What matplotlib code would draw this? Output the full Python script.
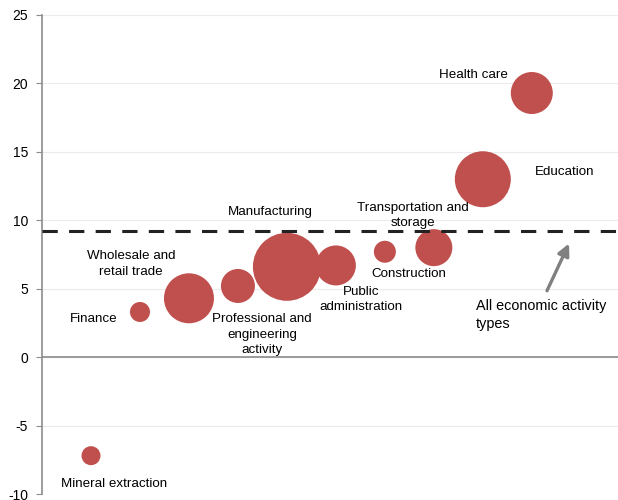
import matplotlib.pyplot as plt

plt.rcParams['font.family'] = ['Liberation Sans', 'DejaVu Sans']
plt.rcParams['axes.unicode_minus'] = False

# Bubble chart: change by economic activity, bubble area = relative weight
activities = ["Mineral extraction", "Finance", "Wholesale and retail trade",
              "Professional and engineering activity", "Manufacturing",
              "Public administration", "Construction",
              "Transportation and storage", "Education", "Health care"]
position = [1, 2, 3, 4, 5, 6, 7, 8, 9, 10]
change = [-7.2, 3.3, 4.3, 5.2, 6.6, 6.7, 7.7, 8.0, 13.0, 19.3]
weight = [361, 400, 2500, 1156, 4624, 1600, 484, 1369, 3136, 1764]
all_activity = 9.2

RED = "#C0504D"

fig = plt.figure(figsize=(6.18, 5.0), dpi=100)
ax = fig.add_axes([0.068, 0.012, 0.932, 0.958])

# weight is in px^2 at 100 dpi, convert to pt^2 for scatter
sizes = [w * 0.72 ** 2 for w in weight]
ax.scatter(position, change, s=sizes, color=RED, edgecolors="none", zorder=3)

ax.axhline(all_activity, color="#222222", lw=2.2, dashes=(5, 3.7), zorder=4)
ax.axhline(0, color="#8c8c8c", lw=1.2, zorder=2)

ax.set_xlim(0, 11.76)
ax.set_ylim(-10, 25)
ax.set_yticks(range(-10, 26, 5))
ax.set_xticks([])
ax.yaxis.grid(True, color="#ebebeb", lw=0.8)
ax.set_axisbelow(True)
for s in ["top", "right", "bottom"]:
    ax.spines[s].set_visible(False)
ax.spines["left"].set_color("#8c8c8c")
ax.spines["left"].set_linewidth(1.2)
ax.tick_params(axis="y", length=4, color="#8c8c8c", labelsize=10, pad=6)

fs = 9.6
labels = [
    ("Mineral extraction", 1.47, -9.3, "center"),
    ("Finance", 1.06, 2.8, "center"),
    ("Wholesale and\nretail trade", 1.82, 6.8, "center"),
    ("Professional and\nengineering\nactivity", 4.49, 1.65, "center"),
    ("Manufacturing", 4.67, 10.6, "center"),
    ("Public\nadministration", 6.51, 4.2, "center"),
    ("Construction", 7.49, 6.05, "center"),
    ("Transportation and\nstorage", 7.57, 10.35, "center"),
    ("Education", 10.06, 13.55, "left"),
    ("Health care", 8.8, 20.6, "center"),
]
for text, x, y, ha in labels:
    ax.text(x, y, text, fontsize=fs, ha=ha, va="center", linespacing=1.4,
            zorder=5)

ax.text(8.86, 3.05, "All economic activity\ntypes", fontsize=10.4, ha="left",
        va="center", linespacing=1.35)
ax.annotate("", xy=(10.76, 8.3), xytext=(10.31, 4.85),
            arrowprops=dict(arrowstyle="-|>,head_length=0.7,head_width=0.35",
                            color="#808080", lw=2.4, shrinkA=0, shrinkB=0))

fig.savefig("out.png", dpi=100)
